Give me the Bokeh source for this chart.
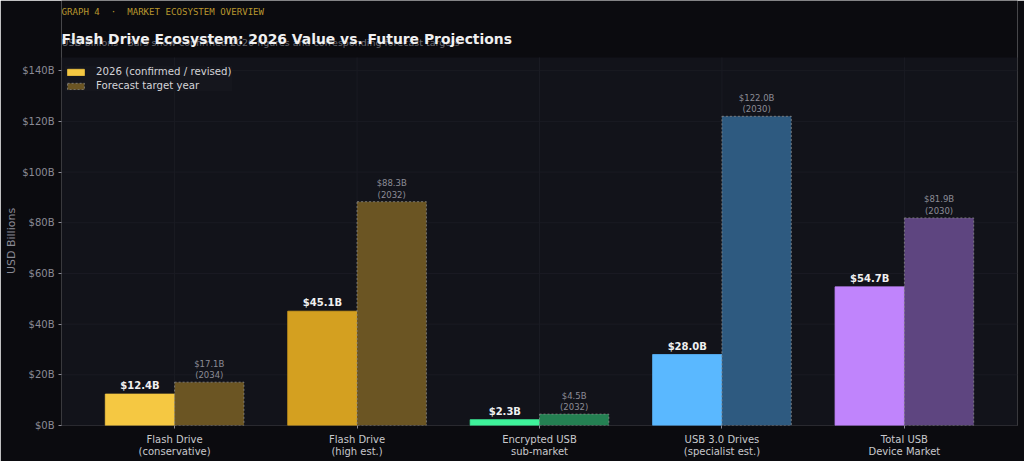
from bokeh.plotting import figure
from bokeh.models import (ColumnDataSource, Legend, LegendItem, Label,
                          PrintfTickFormatter, FixedTicker, Range1d)
from bokeh.core.properties import value
from bokeh.embed import file_html
from bokeh.resources import INLINE

# Market segments and values (USD billions)
categories = ["Flash Drive\n(conservative)", "Flash Drive\n(high est.)",
              "Encrypted USB\nsub-market", "USB 3.0 Drives\n(specialist est.)",
              "Total USB\nDevice Market"]
value_2026 = [12.4, 45.1, 2.3, 28.0, 54.7]
value_forecast = [17.1, 88.3, 4.5, 122.0, 81.9]
forecast_year = [2034, 2032, 2032, 2030, 2030]
color_2026 = ["#f5c842", "#d4a020", "#3ef29a", "#5ab8ff", "#c084fc"]
color_forecast = ["#6b5523", "#6b5523", "#248052", "#2e5a80", "#5e4580"]
y_ticks = [0, 20, 40, 60, 80, 100, 120, 140]

BG = "#0b0b0f"
PLOT_BG = "#12131a"
GRID = "#1a1b23"
FONT = "DejaVu Sans"
W = 0.38
NBSP = "\u00a0"

# The frame runs to the top of the canvas so the heading can sit inside it;
# the chart area itself covers y in [0, Y_PLOT].
LEFT, RIGHT, BOTTOM = 61, 7, 36
FRAME_W = 1024 - LEFT - RIGHT
FRAME_H = 461 - BOTTOM
X0, X1 = -0.62, 4.62
Y_PLOT = 145.2
PX_PER_Y = 368 / Y_PLOT
Y_TOP = FRAME_H / PX_PER_Y
PX_PER_X = FRAME_W / (X1 - X0)


def dx(canvas_x):
    return X0 + (canvas_x - LEFT) / PX_PER_X


def dy(canvas_y):
    return (FRAME_H - canvas_y) / PX_PER_Y


idx = list(range(len(categories)))
src_now = ColumnDataSource(dict(
    x=[i - W / 2 for i in idx], top=value_2026, color=color_2026,
    label=[f"${v:.1f}B" for v in value_2026]))
src_fc = ColumnDataSource(dict(
    x=[i + W / 2 for i in idx], top=value_forecast, color=color_forecast,
    label=[f"${v:.1f}B\n({y})" for v, y in zip(value_forecast, forecast_year)]))

p = figure(width=1024, height=461, output_backend="svg", toolbar_location=None,
           x_range=Range1d(X0, X1), y_range=Range1d(0, Y_TOP),
           min_border_left=LEFT, min_border_right=RIGHT, min_border_top=0,
           min_border_bottom=BOTTOM)
p.background_fill_color = BG
p.border_fill_color = BG
p.outline_line_color = None
p.xgrid.visible = False
p.ygrid.visible = False

# chart area background and grid
p.quad(left=X0, right=X1, bottom=0, top=Y_PLOT, fill_color=PLOT_BG, line_color=None)
p.segment(x0=X0, x1=X1, y0=y_ticks, y1=y_ticks, line_color=GRID, line_width=1)
p.segment(x0=idx, x1=idx, y0=0, y1=Y_PLOT, line_color=GRID, line_width=1)

r_now = p.vbar(x="x", top="top", width=W, source=src_now, fill_color="color",
               line_color="color", line_width=0.8)
r_fc = p.vbar(x="x", top="top", width=W, source=src_fc, fill_color="color",
              line_color="#8a8a8a", line_dash="2 2", line_width=0.8)

p.text(x="x", y="top", text="label", source=src_now, text_align="center",
       text_baseline="bottom", y_offset=-3, text_color="#f0f0f0",
       text_font=value(FONT), text_font_style="bold", text_font_size="10px")
p.text(x="x", y="top", text="label", source=src_fc, text_align="center",
       text_baseline="bottom", y_offset=-2, text_color="#8c8c96",
       text_font=value(FONT), text_font_size="8.5px", text_line_height=1.15)

# axes
p.xaxis.ticker = FixedTicker(ticks=idx)
p.xaxis.major_label_overrides = {i: c for i, c in zip(idx, categories)}
p.yaxis.ticker = FixedTicker(ticks=y_ticks)
p.yaxis.formatter = PrintfTickFormatter(format="$%dB")
for ax in (p.xaxis[0], p.yaxis[0]):
    ax.axis_line_color = None
    ax.major_tick_line_color = "#8a8a95"
    ax.major_tick_out = 3
    ax.major_tick_in = 0
    ax.minor_tick_line_color = None
    ax.major_label_text_font = FONT
    ax.major_label_standoff = 5
p.xaxis.major_label_text_color = "#c8c8cc"
p.xaxis.major_label_text_font_size = "10px"
p.xaxis.major_label_text_line_height = 1.1
p.yaxis.major_label_standoff = 4
p.yaxis.major_label_text_color = "#8a8a95"
p.yaxis.major_label_text_font_size = "10px"
# trailing no-break spaces centre the title on the chart area, not the frame
p.yaxis.axis_label = "USD Billions" + NBSP * 16
p.yaxis.axis_label_text_color = "#8a8a95"
p.yaxis.axis_label_text_font = FONT
p.yaxis.axis_label_text_font_style = "normal"
p.yaxis.axis_label_text_font_size = "11px"
p.yaxis.axis_label_standoff = 1

legend = Legend(items=[
    LegendItem(label="2026 (confirmed / revised)", renderers=[r_now], index=0),
    LegendItem(label="Forecast target year", renderers=[r_fc], index=0),
], location=(4, FRAME_H - 91))
legend.background_fill_color = "#15161d"
legend.background_fill_alpha = 1.0
legend.border_line_color = None
legend.label_text_color = "#d4d4d8"
legend.label_text_font = FONT
legend.label_text_font_size = "10.2px"
legend.label_height = 11
legend.glyph_width = 21
legend.glyph_height = 8
legend.spacing = 3
legend.padding = 4
legend.margin = 0
legend.label_standoff = 10
p.add_layout(legend)

# heading
p.add_layout(Label(x=dx(61), y=dy(11),
                   text=f"GRAPH 4{NBSP * 2}·{NBSP * 2}MARKET ECOSYSTEM OVERVIEW",
                   text_font="DejaVu Sans Mono", text_font_size="9.1px",
                   text_color="#b8962e", text_baseline="middle"))
p.add_layout(Label(x=dx(61), y=dy(42),
                   text="USD billions · Bars show confirmed 2026 figures and corresponding forecast targets",
                   text_font=FONT, text_font_size="9.5px",
                   text_color="#6a6a72", text_baseline="middle"))
p.add_layout(Label(x=dx(61), y=dy(38),
                   text="Flash Drive Ecosystem: 2026 Value vs. Future Projections",
                   text_font=FONT, text_font_size="13.9px", text_font_style="bold",
                   text_color="#f0f0f0", text_baseline="middle"))

open("out.html", "w").write(file_html(p, INLINE))
